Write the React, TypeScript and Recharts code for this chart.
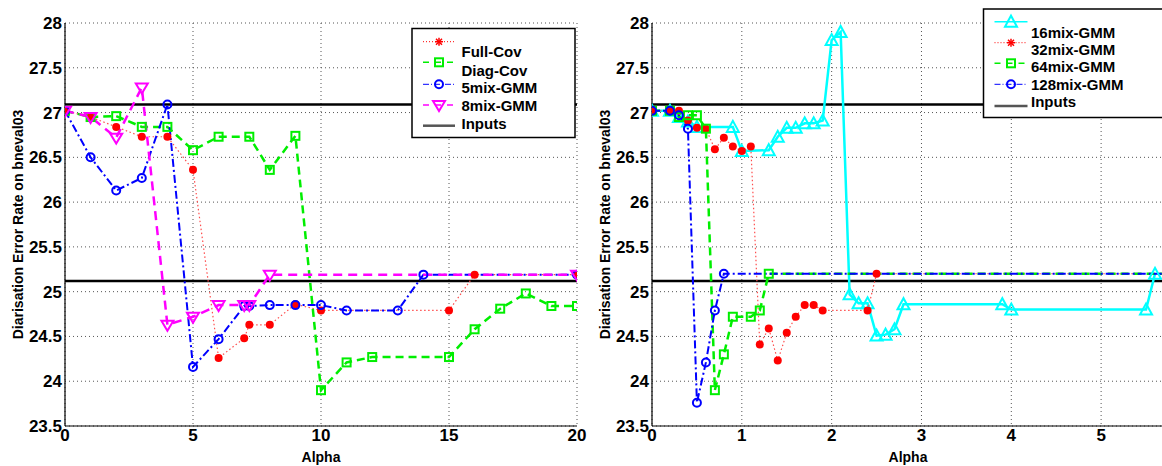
import React from 'react';
import { LineChart, Line, XAxis, YAxis, CartesianGrid, ReferenceLine } from 'recharts';

// ---------- shared axis values ----------
const Y_TICKS = [23.5, 24, 24.5, 25, 25.5, 26, 26.5, 27, 27.5, 28];
const LEFT_X_TICKS = [0, 5, 10, 15, 20];
const RIGHT_X_TICKS = [0, 1, 2, 3, 4, 5];
const INPUT_LEVELS = [27.09, 25.12];
const Y_LABEL = 'Diarisation Error Rate on bneval03';
const X_LABEL = 'Alpha';

// ---------- left panel ----------
const fullCovX = [0, 1, 2, 3, 4, 5, 6, 7, 7.2, 8, 9, 10, 15, 16, 20];
const fullCovY = [27.02, 26.95, 26.84, 26.73, 26.73, 26.36, 24.26, 24.48, 24.63, 24.63, 24.86, 24.79, 24.79, 25.19, 25.19];

const diagCovX = [0, 1, 2, 3, 4, 5, 6, 7.2, 8, 9, 10, 11, 12, 15, 16, 17, 18, 19, 20];
const diagCovY = [27.02, 26.95, 26.96, 26.84, 26.84, 26.58, 26.73, 26.73, 26.36, 26.74, 23.9, 24.21, 24.27, 24.27, 24.58, 24.81, 24.98, 24.84, 24.84];

const mix5X = [0, 1, 2, 3, 4, 5, 6, 7, 7.2, 8, 9, 10, 11, 13, 14, 20];
const mix5Y = [27.02, 26.5, 26.13, 26.27, 27.09, 24.16, 24.47, 24.84, 24.84, 24.85, 24.85, 24.85, 24.79, 24.79, 25.19, 25.19];

const mix8X = [0, 1, 2, 3, 4, 5, 6, 7, 7.2, 8, 20];
const mix8Y = [27.02, 26.95, 26.72, 27.28, 24.63, 24.72, 24.85, 24.85, 24.85, 25.19, 25.19];

// ---------- right panel ----------
const mix16X = [0, 0.2, 0.3, 0.4, 0.5, 0.9, 1.0, 1.3, 1.4, 1.5, 1.6, 1.7, 1.8, 1.9, 2.0, 2.1, 2.2, 2.3, 2.4, 2.5, 2.6, 2.7, 2.8, 3.9, 4.0, 5.5, 5.6];
const mix16Y = [27.02, 27.02, 26.95, 26.9, 26.84, 26.84, 26.57, 26.58, 26.73, 26.83, 26.83, 26.88, 26.88, 26.91, 27.81, 27.9, 24.97, 24.87, 24.87, 24.51, 24.52, 24.58, 24.86, 24.86, 24.8, 24.8, 25.2];

const mix32X = [0, 0.2, 0.3, 0.4, 0.5, 0.6, 0.7, 0.8, 0.9, 1.0, 1.1, 1.2, 1.3, 1.4, 1.5, 1.6, 1.7, 1.8, 1.9, 2.4, 2.5, 5.7];
const mix32Y = [27.02, 27.02, 27.02, 26.91, 26.83, 26.82, 26.59, 26.72, 26.62, 26.57, 26.62, 24.41, 24.59, 24.23, 24.54, 24.72, 24.85, 24.85, 24.79, 24.79, 25.2, 25.2];

const mix64X = [0, 0.2, 0.3, 0.4, 0.5, 0.6, 0.7, 0.8, 0.9, 1.1, 1.2, 1.3, 5.7];
const mix64Y = [27.02, 27.02, 26.95, 26.97, 26.97, 26.82, 23.9, 24.3, 24.72, 24.72, 24.79, 25.2, 25.2];

const mix128X = [0, 0.2, 0.3, 0.4, 0.5, 0.6, 0.7, 0.8, 5.7];
const mix128Y = [27.02, 27.02, 26.97, 26.82, 23.76, 24.21, 24.79, 25.2, 25.2];

const zip = (xs: number[], ys: number[]) => xs.map((x, i) => ({ x, y: ys[i] }));

const RED = '#ff0000';
const RED_LINE = '#ff4d4d';
const GREEN = '#00ee00';
const BLUE = '#0000ff';
const MAGENTA = '#ff00ff';
const CYAN = '#00ffff';
const FONT = '"Liberation Sans", Arial, Helvetica, sans-serif';

type Kind = 'dotFilled' | 'circle' | 'square' | 'triDown' | 'triUp';

function shape(kind: Kind, color: string, cx: number, cy: number, key?: string) {
  switch (kind) {
    case 'dotFilled':
      return <circle key={key} cx={cx} cy={cy} r={4} fill={color} stroke="none" />;
    case 'circle':
      return <circle key={key} cx={cx} cy={cy} r={4} fill="none" stroke={color} strokeWidth={2} />;
    case 'square':
      return <rect key={key} x={cx - 4} y={cy - 4} width={8} height={8} fill="none" stroke={color} strokeWidth={2} />;
    case 'triDown':
      return <polygon key={key} points={`${cx - 6},${cy - 4} ${cx + 6},${cy - 4} ${cx},${cy + 6}`} fill="none" stroke={color} strokeWidth={2} />;
    case 'triUp':
      return <polygon key={key} points={`${cx - 6},${cy + 5} ${cx + 6},${cy + 5} ${cx},${cy - 6}`} fill="none" stroke={color} strokeWidth={2} />;
  }
  return null;
}

const makeDot = (kind: Kind, color: string, maxX: number) => (p: any) => {
  const { cx, cy, index, payload } = p;
  const key = `dot-${index}`;
  if (cx == null || cy == null || (payload && payload.x >= maxX)) return <g key={key} />;
  return shape(kind, color, cx, cy, key);
};

const yLabel = (props: any) => {
  const vb = props.viewBox || {};
  const x = (vb.x ?? 0) + 18;
  const y = (vb.y ?? 0) + (vb.height ?? 0) / 2;
  return (
    <text x={x} y={y} transform={`rotate(-90 ${x} ${y})`} textAnchor="middle" dominantBaseline="central"
      fontFamily={FONT} fontWeight="bold" fontSize={14} fill="#000">{Y_LABEL}</text>
  );
};

const xLabel = (props: any) => {
  const vb = props.viewBox || {};
  const x = (vb.x ?? 0) + (vb.width ?? 0) / 2;
  const y = (vb.y ?? 0) + 36;
  return (
    <text x={x} y={y} textAnchor="middle" fontFamily={FONT} fontWeight="bold" fontSize={14} fill="#000">{X_LABEL}</text>
  );
};

const tickStyle = { fontFamily: FONT, fontWeight: 'bold' as const, fontSize: 17, fill: '#000' };

interface SeriesDef { name: string; data: { x: number; y: number }[]; color: string; lineColor?: string; width: number; dash?: string; kind: Kind }

function Panel({ width, xMax, xTicks, series, maxDotX }: { width: number; xMax: number; xTicks: number[]; series: SeriesDef[]; maxDotX: number }) {
  return (
    <LineChart width={width} height={466} margin={{ top: 23, right: width === 600 ? 23 : 0, bottom: 10, left: 0 }}>
      <CartesianGrid stroke="#555" strokeDasharray="1 3" strokeWidth={1} />
      <XAxis dataKey="x" type="number" domain={[0, xMax]} ticks={xTicks} allowDataOverflow
        height={30} tickLine={false} tickSize={0} tickMargin={3} tick={tickStyle}
        axisLine={{ stroke: '#000', strokeWidth: 1.2 }} label={{ content: xLabel }} />
      <YAxis type="number" domain={[23.5, 28]} ticks={Y_TICKS} allowDataOverflow width={65}
        tickLine={false} tickSize={0} tickMargin={3} tick={tickStyle}
        axisLine={{ stroke: '#000', strokeWidth: 1.2 }} label={{ content: yLabel }} />
      {INPUT_LEVELS.map((v) => (
        <ReferenceLine key={v} y={v} stroke="#000" strokeWidth={2.5} />
      ))}
      {series.map((s) => (
        <Line key={s.name} name={s.name} data={s.data} dataKey="y" type="linear" stroke={s.lineColor || s.color}
          strokeWidth={s.width} strokeDasharray={s.dash} isAnimationActive={false} legendType="none"
          dot={makeDot(s.kind, s.color, maxDotX)} activeDot={false} />
      ))}
    </LineChart>
  );
}

function LegendBox({ left, top, width, height, rows, sampleX0, sampleX1, textX, sampleYs, textYs }: any) {
  return (
    <svg style={{ position: 'absolute', left: 0, top: 0 }} width={1162} height={466}>
      <rect x={left} y={top} width={width} height={height} fill="#fff" stroke="#000" strokeWidth={1.5} />
      {rows.map((r: any, i: number) => {
        const sy = sampleYs[i];
        const mx = (sampleX0 + sampleX1) / 2;
        return (
          <g key={r.name}>
            <line x1={sampleX0} y1={sy} x2={sampleX1} y2={sy} stroke={r.color} strokeWidth={r.width}
              strokeDasharray={r.dash} />
            {r.kind === 'star' ? (
              <g stroke={r.color} strokeWidth={1.5}>
                <line x1={mx - 4} y1={sy} x2={mx + 4} y2={sy} />
                <line x1={mx} y1={sy - 4} x2={mx} y2={sy + 4} />
                <line x1={mx - 3} y1={sy - 3} x2={mx + 3} y2={sy + 3} />
                <line x1={mx - 3} y1={sy + 3} x2={mx + 3} y2={sy - 3} />
              </g>
            ) : r.kind ? (
              <g>{shape(r.kind, r.color, mx, sy)}</g>
            ) : null}
            <text x={textX} y={textYs[i]} dominantBaseline="central" fontFamily={FONT} fontWeight="bold"
              fontSize={15} fill="#000">{r.name}</text>
          </g>
        );
      })}
    </svg>
  );
}

export default function App() {
  const leftSeries: SeriesDef[] = [
    { name: 'Full-Cov', data: zip(fullCovX, fullCovY), color: RED, lineColor: RED_LINE, width: 1.2, dash: '1.5 2.5', kind: 'dotFilled' },
    { name: 'Diag-Cov', data: zip(diagCovX, diagCovY), color: GREEN, width: 2.5, dash: '8 5', kind: 'square' },
    { name: '5mix-GMM', data: zip(mix5X, mix5Y), color: BLUE, width: 2, dash: '8 3 2 3', kind: 'circle' },
    { name: '8mix-GMM', data: zip(mix8X, mix8Y), color: MAGENTA, width: 2.5, dash: '9 6', kind: 'triDown' },
  ];
  const rightSeries: SeriesDef[] = [
    { name: '16mix-GMM', data: zip(mix16X, mix16Y), color: CYAN, width: 2.5, kind: 'triUp' },
    { name: '32mix-GMM', data: zip(mix32X, mix32Y), color: RED, lineColor: RED_LINE, width: 1.2, dash: '1.5 2.5', kind: 'dotFilled' },
    { name: '64mix-GMM', data: zip(mix64X, mix64Y), color: GREEN, width: 2.5, dash: '8 5', kind: 'square' },
    { name: '128mix-GMM', data: zip(mix128X, mix128Y), color: BLUE, width: 2, dash: '8 3 2 3', kind: 'circle' },
  ];

  const leftLegendRows = [
    { name: 'Full-Cov', color: RED, width: 1, dash: '1 2', kind: 'star' },
    { name: 'Diag-Cov', color: GREEN, width: 1.5, dash: '6 6', kind: 'square' },
    { name: '5mix-GMM', color: BLUE, width: 1, dash: '6 2 1 2', kind: 'circle' },
    { name: '8mix-GMM', color: MAGENTA, width: 1.5, dash: '6 6', kind: 'triDown' },
    { name: 'Inputs', color: '#555', width: 2.5, kind: null },
  ];
  const rightLegendRows = [
    { name: '16mix-GMM', color: CYAN, width: 1.5, kind: 'triUp' },
    { name: '32mix-GMM', color: RED, width: 1, dash: '1 2', kind: 'star' },
    { name: '64mix-GMM', color: GREEN, width: 1.5, dash: '6 6', kind: 'square' },
    { name: '128mix-GMM', color: BLUE, width: 1, dash: '6 2 1 2', kind: 'circle' },
    { name: 'Inputs', color: '#555', width: 2.5, kind: null },
  ];

  return (
    <div style={{ position: 'absolute', left: 0, top: 0, width: 1162, height: 466, overflow: 'hidden', background: '#fff' }}>
      <div style={{ position: 'absolute', left: 0, top: 0 }}>
        <Panel width={600} xMax={20} xTicks={LEFT_X_TICKS} series={leftSeries} maxDotX={99} />
      </div>
      <div style={{ position: 'absolute', left: 587, top: 0 }}>
        <Panel width={577} xMax={5.7} xTicks={RIGHT_X_TICKS} series={rightSeries} maxDotX={5.65} />
      </div>
      <LegendBox left={412} top={28.5} width={163} height={109} rows={leftLegendRows}
        sampleX0={423} sampleX1={455} textX={461.5}
        sampleYs={[41.7, 62.3, 84.3, 105, 125.7]} textYs={[51.7, 70, 87.3, 105, 123.3]} />
      <LegendBox left={983.5} top={9} width={200} height={108.5} rows={rightLegendRows}
        sampleX0={994.5} sampleX1={1027.5} textX={1031}
        sampleYs={[21.7, 42.7, 63.3, 84.3, 106]} textYs={[32.3, 49.3, 66.7, 84.3, 101.7]} />
    </div>
  );
}
